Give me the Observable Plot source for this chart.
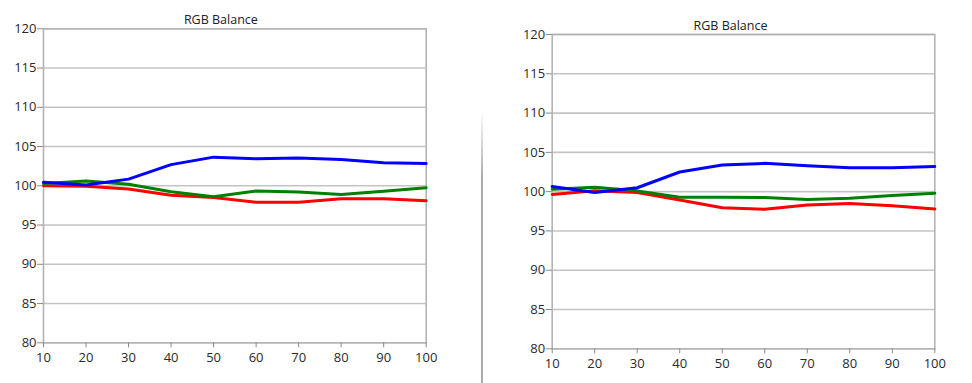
<!DOCTYPE html>
<html>
<head>
<meta charset="utf-8">
<script src="https://cdn.jsdelivr.net/npm/d3@7"></script>
<script src="https://cdn.jsdelivr.net/npm/@observablehq/plot@0.6"></script>
<style>
  html, body { margin: 0; padding: 0; background: #fff; }
  #wrap { position: relative; width: 972px; height: 383px; overflow: hidden; font-family: "Open Sans", sans-serif; }
  #left { position: absolute; left: 0; top: 0; }
  #right { position: absolute; left: 490px; top: 0; }
  #divider { position: absolute; left: 481px; top: 110px; width: 2px; height: 273px;
    background: linear-gradient(to bottom, rgba(170,170,170,0), rgba(170,170,170,1) 25%, rgba(170,170,170,1)); }
</style>
</head>
<body>
<div id="wrap">
  <div id="left"></div>
  <div id="divider"></div>
  <div id="right"></div>
</div>
<script>
const title = "RGB Balance";
const xValues = [10, 20, 30, 40, 50, 60, 70, 80, 90, 100];
const xTicks = [10, 20, 30, 40, 50, 60, 70, 80, 90, 100];
const yTicks = [80, 85, 90, 95, 100, 105, 110, 115, 120];

const leftRed   = [100.0, 99.95, 99.6, 98.8, 98.5, 97.9, 97.9, 98.35, 98.35, 98.1];
const leftGreen = [100.3, 100.6, 100.2, 99.25, 98.6, 99.35, 99.2, 98.9, 99.3, 99.75];
const leftBlue  = [100.45, 100.1, 100.85, 102.7, 103.65, 103.45, 103.55, 103.35, 102.95, 102.85];

const rightRed   = [99.65, 100.1, 99.9, 98.95, 97.95, 97.75, 98.3, 98.5, 98.2, 97.8];
const rightGreen = [100.3, 100.55, 100.1, 99.3, 99.3, 99.25, 99.0, 99.15, 99.5, 99.8];
const rightBlue  = [100.65, 99.9, 100.5, 102.5, 103.4, 103.6, 103.3, 103.05, 103.05, 103.2];

const seriesNames = ["Red", "Green", "Blue"];
const seriesColors = ["#ff0000", "#008a00", "#0000ff"];

function tidy(red, green, blue) {
  const rows = [];
  [red, green, blue].forEach((vals, i) => {
    vals.forEach((v, j) => rows.push({series: seriesNames[i], x: xValues[j], y: v}));
  });
  return rows;
}

function chart(data, opts) {
  return Plot.plot({
    width: opts.width,
    height: 383,
    marginLeft: opts.ml,
    marginRight: opts.mr,
    marginTop: opts.mt,
    marginBottom: opts.mb,
    style: {fontFamily: "'Open Sans', sans-serif", fontSize: "13px", color: "#2a2a2a", background: "transparent", overflow: "visible"},
    x: {domain: [10, 100], label: null},
    y: {domain: [80, 120], label: null},
    color: {domain: seriesNames, range: seriesColors},
    marks: [
      Plot.gridY(yTicks, {stroke: "#c4c4c4", strokeOpacity: 1, strokeWidth: 1.6}),
      Plot.frame({stroke: "#b4b4b4", strokeWidth: 1.6}),
      Plot.axisY({ticks: yTicks, label: null, tickSize: 6, tickPadding: 1, stroke: "#8a8a8a", fill: "#2a2a2a", fontSize: 13}),
      Plot.axisX({ticks: xTicks, label: null, tickSize: 5, tickPadding: 5, stroke: "#8a8a8a", fill: "#2a2a2a", fontSize: 13}),
      Plot.line(data, {x: "x", y: "y", z: "series", stroke: "series", strokeWidth: 3, curve: "linear"}),
      Plot.text([title], {frameAnchor: "top", dx: opts.tdx, dy: opts.tdy, fontSize: 12.5, fill: "#222", textAnchor: "middle"})
    ]
  });
}

document.getElementById("left").append(chart(tidy(leftRed, leftGreen, leftBlue),
  {width: 480, ml: 43, mr: 54.3, mt: 28.3, mb: 40.7, tdx: -14, tdy: -14}));
document.getElementById("right").append(chart(tidy(rightRed, rightGreen, rightBlue),
  {width: 482, ml: 61.7, mr: 37.7, mt: 34, mb: 34.7, tdx: -13, tdy: -13}));
</script>
</body>
</html>
